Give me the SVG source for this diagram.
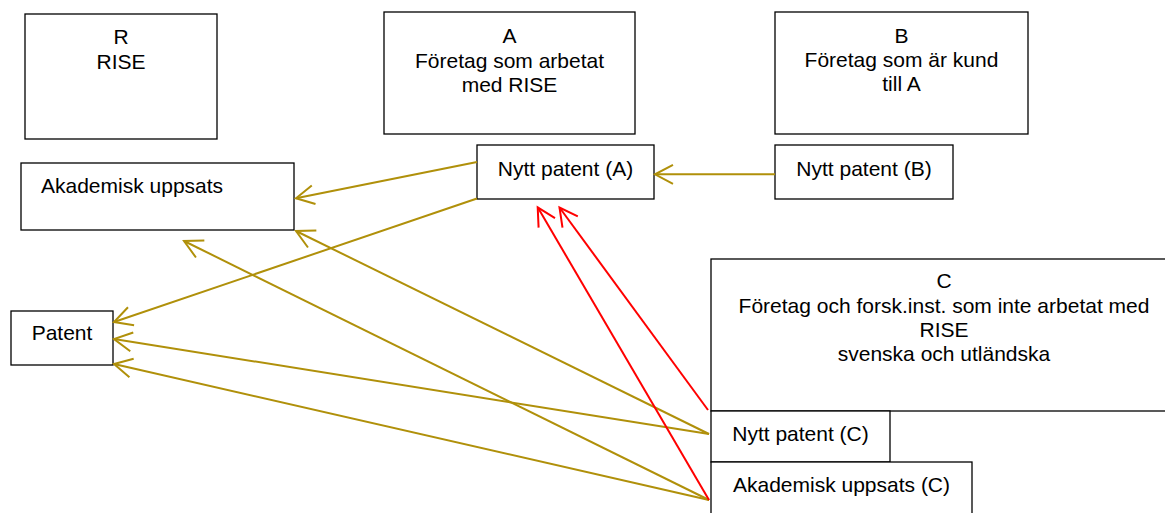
<svg xmlns="http://www.w3.org/2000/svg" width="1165" height="513" viewBox="0 0 1165 513">
<style>
.box{fill:#fff;stroke:#000;stroke-width:1.3}
.t{font-family:"Liberation Sans",Arial,sans-serif;font-size:21px;fill:#000}
.c{text-anchor:middle}
.g{fill:none;stroke:#B0900A;stroke-width:2}
.r{fill:none;stroke:#FF0000;stroke-width:2}
</style>
<defs>
<marker id="ag" markerUnits="userSpaceOnUse" orient="auto" refX="0" refY="0" viewBox="-22 -12 24 24" markerWidth="24" markerHeight="24" overflow="visible">
<path d="M-18,-9.5 L0,0 L-18,9.5" fill="none" stroke="#B0900A" stroke-width="2"/>
</marker>
<marker id="ar" markerUnits="userSpaceOnUse" orient="auto" refX="0" refY="0" viewBox="-22 -12 24 24" markerWidth="24" markerHeight="24" overflow="visible">
<path d="M-18,-9.5 L0,0 L-18,9.5" fill="none" stroke="#FF0000" stroke-width="2"/>
</marker>
</defs>

<g id="node-R">
<rect class="box" x="25" y="14" width="192" height="125"/>
<text class="t c" x="121" y="44">R</text>
<text class="t c" x="121" y="69">RISE</text>
</g>
<g id="node-A">
<rect class="box" x="384" y="12" width="251" height="122"/>
<text class="t c" x="509.5" y="43">A</text>
<text class="t c" x="509.5" y="68">Företag som arbetat</text>
<text class="t c" x="509.5" y="92">med RISE</text>
</g>
<g id="node-B">
<rect class="box" x="775" y="12" width="253" height="122"/>
<text class="t c" x="901.5" y="43">B</text>
<text class="t c" x="901.5" y="67">Företag som är kund</text>
<text class="t c" x="901.5" y="91">till A</text>
</g>
<g id="node-nyttA">
<rect class="box" x="477" y="145" width="177" height="54"/>
<text class="t c" x="565.5" y="176">Nytt patent (A)</text>
</g>
<g id="node-nyttB">
<rect class="box" x="775" y="145" width="178" height="54"/>
<text class="t c" x="864" y="176">Nytt patent (B)</text>
</g>
<g id="node-akad">
<rect class="box" x="21" y="163" width="273" height="67"/>
<text class="t" x="41" y="193">Akademisk uppsats</text>
</g>
<g id="node-patent">
<rect class="box" x="11" y="311" width="102" height="54"/>
<text class="t c" x="62" y="340">Patent</text>
</g>
<g id="node-C">
<rect class="box" x="711" y="259" width="466" height="152"/>
<text class="t c" x="944" y="288">C</text>
<text class="t c" x="944" y="313">Företag och forsk.inst. som inte arbetat med</text>
<text class="t c" x="944" y="337">RISE</text>
<text class="t c" x="944" y="361">svenska och utländska</text>
</g>
<g id="node-nyttC">
<rect class="box" x="711" y="411" width="179" height="51"/>
<text class="t c" x="800.5" y="441">Nytt patent (C)</text>
</g>
<g id="node-akadC">
<rect class="box" x="711" y="462" width="261" height="60"/>
<text class="t c" x="841.5" y="492">Akademisk uppsats (C)</text>
</g>

<g id="connectors">
<line class="g" x1="775" y1="174.3" x2="655" y2="174.3" marker-end="url(#ag)"/>
<line class="g" x1="477" y1="162" x2="296" y2="198.3" marker-end="url(#ag)"/>
<line class="g" x1="477" y1="198.5" x2="114" y2="322" marker-end="url(#ag)"/>
<line class="g" x1="709" y1="434" x2="114" y2="339" marker-end="url(#ag)"/>
<line class="g" x1="709" y1="500" x2="114" y2="364" marker-end="url(#ag)"/>
<line class="g" x1="709" y1="434" x2="296" y2="231" marker-end="url(#ag)"/>
<line class="g" x1="709" y1="500" x2="184" y2="241" marker-end="url(#ag)"/>
<line class="r" x1="708" y1="410" x2="559.5" y2="207.5" marker-end="url(#ar)"/>
<line class="r" x1="709" y1="500" x2="537.7" y2="207.3" marker-end="url(#ar)"/>
</g>
</svg>
